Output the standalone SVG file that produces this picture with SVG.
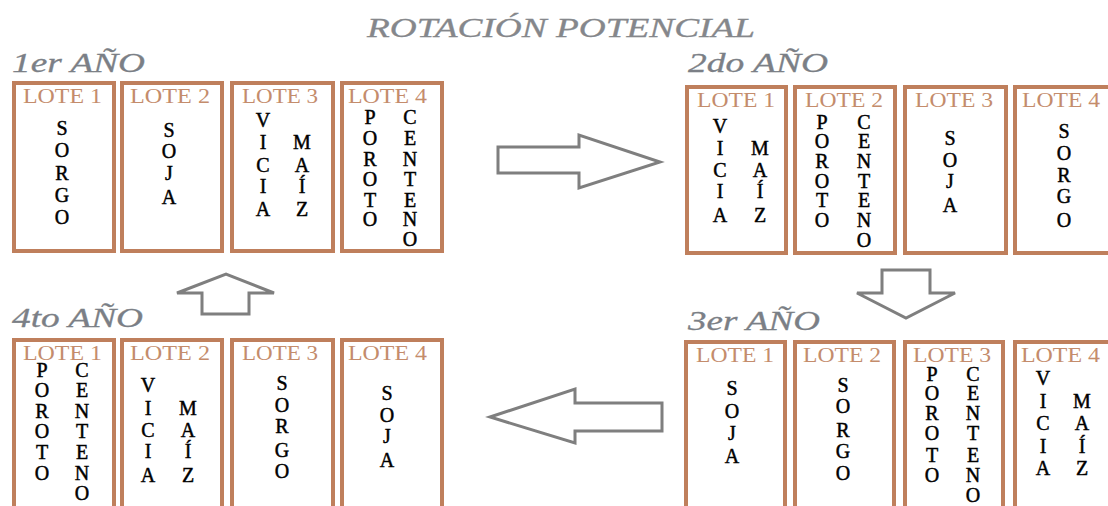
<svg xmlns="http://www.w3.org/2000/svg" width="1108" height="506" viewBox="0 0 1108 506">
<style>
.bg{fill:#ffffff}
.box{fill:#ffffff;stroke:#bf7f5c;stroke-width:4}
.lote{font-family:"Liberation Serif",serif;font-size:20px;fill:#c48c6c}
.crop{font-family:"Liberation Serif",serif;font-size:20px;fill:#000000;stroke:#000000;stroke-width:0.45;text-anchor:middle}
.year{font-family:"Liberation Serif",serif;font-style:italic;font-size:27px;fill:#7b7f86;stroke:#7b7f86;stroke-width:0.3}
.title{font-family:"Liberation Serif",serif;font-style:italic;font-size:27px;fill:#85878b;stroke:#85878b;stroke-width:0.3}
.arrow{fill:#ffffff;stroke:#7f7f7f;stroke-width:3;stroke-linejoin:miter}
</style>
<rect class="bg" x="0" y="0" width="1108" height="506"/>
<text class="title" x="367" y="37" textLength="388" lengthAdjust="spacingAndGlyphs">ROTACIÓN POTENCIAL</text>

<g id="year1">
<text class="year" x="12" y="72" textLength="133" lengthAdjust="spacingAndGlyphs">1er AÑO</text>
<g id="y1-lote1"><rect class="box" x="14" y="83" width="100" height="168"/>
<text class="lote" x="23" y="103" textLength="79" lengthAdjust="spacingAndGlyphs">LOTE 1</text>
<text class="crop"><tspan x="62" y="135">S</tspan><tspan x="62" y="157">O</tspan><tspan x="62" y="180">R</tspan><tspan x="62" y="202">G</tspan><tspan x="62" y="224">O</tspan></text></g>
<g id="y1-lote2"><rect class="box" x="122" y="83" width="100" height="168"/>
<text class="lote" x="130" y="103" textLength="80" lengthAdjust="spacingAndGlyphs">LOTE 2</text>
<text class="crop"><tspan x="169" y="137">S</tspan><tspan x="169" y="158">O</tspan><tspan x="169" y="180">J</tspan><tspan x="169" y="204">A</tspan></text></g>
<g id="y1-lote3"><rect class="box" x="232" y="83" width="101" height="168"/>
<text class="lote" x="242" y="103" textLength="76" lengthAdjust="spacingAndGlyphs">LOTE 3</text>
<text class="crop"><tspan x="263" y="127">V</tspan><tspan x="263" y="149">I</tspan><tspan x="263" y="172">C</tspan><tspan x="263" y="193">I</tspan><tspan x="263" y="216">A</tspan></text>
<text class="crop"><tspan x="302" y="149">M</tspan><tspan x="302" y="172">A</tspan><tspan x="302" y="193">Í</tspan><tspan x="302" y="216">Z</tspan></text></g>
<g id="y1-lote4"><rect class="box" x="342" y="83" width="100" height="168"/>
<text class="lote" x="348" y="103" textLength="79" lengthAdjust="spacingAndGlyphs">LOTE 4</text>
<text class="crop"><tspan x="370" y="124">P</tspan><tspan x="370" y="145">O</tspan><tspan x="370" y="166">R</tspan><tspan x="370" y="186">O</tspan><tspan x="370" y="207">T</tspan><tspan x="370" y="226">O</tspan></text>
<text class="crop"><tspan x="410" y="124">C</tspan><tspan x="410" y="145">E</tspan><tspan x="410" y="166">N</tspan><tspan x="410" y="186">T</tspan><tspan x="410" y="207">E</tspan><tspan x="410" y="226">N</tspan><tspan x="410" y="246">O</tspan></text></g>
</g>

<g id="year2">
<text class="year" x="688" y="72" textLength="140" lengthAdjust="spacingAndGlyphs">2do AÑO</text>
<g id="y2-lote1"><rect class="box" x="687" y="87" width="99" height="166"/>
<text class="lote" x="697" y="107" textLength="78" lengthAdjust="spacingAndGlyphs">LOTE 1</text>
<text class="crop"><tspan x="720" y="133">V</tspan><tspan x="720" y="155">I</tspan><tspan x="720" y="177">C</tspan><tspan x="720" y="198">I</tspan><tspan x="720" y="222">A</tspan></text>
<text class="crop"><tspan x="760" y="155">M</tspan><tspan x="760" y="177">A</tspan><tspan x="760" y="198">Í</tspan><tspan x="760" y="222">Z</tspan></text></g>
<g id="y2-lote2"><rect class="box" x="795" y="87" width="100" height="166"/>
<text class="lote" x="805" y="107" textLength="78" lengthAdjust="spacingAndGlyphs">LOTE 2</text>
<text class="crop"><tspan x="822" y="129">P</tspan><tspan x="822" y="148">O</tspan><tspan x="822" y="168">R</tspan><tspan x="822" y="188">O</tspan><tspan x="822" y="207">T</tspan><tspan x="822" y="227">O</tspan></text>
<text class="crop"><tspan x="864" y="129">C</tspan><tspan x="864" y="148">E</tspan><tspan x="864" y="168">N</tspan><tspan x="864" y="188">T</tspan><tspan x="864" y="207">E</tspan><tspan x="864" y="227">N</tspan><tspan x="864" y="247">O</tspan></text></g>
<g id="y2-lote3"><rect class="box" x="905" y="87" width="101" height="166"/>
<text class="lote" x="915" y="107" textLength="78" lengthAdjust="spacingAndGlyphs">LOTE 3</text>
<text class="crop"><tspan x="950" y="145">S</tspan><tspan x="950" y="167">O</tspan><tspan x="950" y="188">J</tspan><tspan x="950" y="212">A</tspan></text></g>
<g id="y2-lote4"><rect class="box" x="1015" y="87" width="100" height="166"/>
<text class="lote" x="1022" y="107" textLength="78" lengthAdjust="spacingAndGlyphs">LOTE 4</text>
<text class="crop"><tspan x="1064" y="138">S</tspan><tspan x="1064" y="160">O</tspan><tspan x="1064" y="182">R</tspan><tspan x="1064" y="203">G</tspan><tspan x="1064" y="227">O</tspan></text></g>
</g>

<g id="year3">
<text class="year" x="688" y="330" textLength="132" lengthAdjust="spacingAndGlyphs">3er AÑO</text>
<g id="y3-lote1"><rect class="box" x="686" y="342" width="99" height="200"/>
<text class="lote" x="696" y="362" textLength="78" lengthAdjust="spacingAndGlyphs">LOTE 1</text>
<text class="crop"><tspan x="732" y="395">S</tspan><tspan x="732" y="418">O</tspan><tspan x="732" y="440">J</tspan><tspan x="732" y="463">A</tspan></text></g>
<g id="y3-lote2"><rect class="box" x="795" y="342" width="99" height="200"/>
<text class="lote" x="803" y="362" textLength="78" lengthAdjust="spacingAndGlyphs">LOTE 2</text>
<text class="crop"><tspan x="843" y="392">S</tspan><tspan x="843" y="413">O</tspan><tspan x="843" y="437">R</tspan><tspan x="843" y="458">G</tspan><tspan x="843" y="480">O</tspan></text></g>
<g id="y3-lote3"><rect class="box" x="905" y="342" width="98" height="200"/>
<text class="lote" x="913" y="362" textLength="78" lengthAdjust="spacingAndGlyphs">LOTE 3</text>
<text class="crop"><tspan x="932" y="381">P</tspan><tspan x="932" y="400">O</tspan><tspan x="932" y="420">R</tspan><tspan x="932" y="440">O</tspan><tspan x="932" y="462">T</tspan><tspan x="932" y="482">O</tspan></text>
<text class="crop"><tspan x="973" y="381">C</tspan><tspan x="973" y="400">E</tspan><tspan x="973" y="420">N</tspan><tspan x="973" y="440">T</tspan><tspan x="973" y="462">E</tspan><tspan x="973" y="482">N</tspan><tspan x="973" y="502">O</tspan></text></g>
<g id="y3-lote4"><rect class="box" x="1015" y="342" width="100" height="200"/>
<text class="lote" x="1021" y="362" textLength="79" lengthAdjust="spacingAndGlyphs">LOTE 4</text>
<text class="crop"><tspan x="1043" y="385">V</tspan><tspan x="1043" y="408">I</tspan><tspan x="1043" y="430">C</tspan><tspan x="1043" y="453">I</tspan><tspan x="1043" y="475">A</tspan></text>
<text class="crop"><tspan x="1082" y="408">M</tspan><tspan x="1082" y="430">A</tspan><tspan x="1082" y="453">Í</tspan><tspan x="1082" y="475">Z</tspan></text></g>
</g>

<g id="year4">
<text class="year" x="12" y="327" textLength="131" lengthAdjust="spacingAndGlyphs">4to AÑO</text>
<g id="y4-lote1"><rect class="box" x="14" y="340" width="100" height="200"/>
<text class="lote" x="23" y="360" textLength="79" lengthAdjust="spacingAndGlyphs">LOTE 1</text>
<text class="crop"><tspan x="42" y="377">P</tspan><tspan x="42" y="397">O</tspan><tspan x="42" y="418">R</tspan><tspan x="42" y="438">O</tspan><tspan x="42" y="459">T</tspan><tspan x="42" y="480">O</tspan></text>
<text class="crop"><tspan x="82" y="377">C</tspan><tspan x="82" y="397">E</tspan><tspan x="82" y="418">N</tspan><tspan x="82" y="438">T</tspan><tspan x="82" y="459">E</tspan><tspan x="82" y="480">N</tspan><tspan x="82" y="500">O</tspan></text></g>
<g id="y4-lote2"><rect class="box" x="122" y="340" width="100" height="200"/>
<text class="lote" x="130" y="360" textLength="80" lengthAdjust="spacingAndGlyphs">LOTE 2</text>
<text class="crop"><tspan x="148" y="392">V</tspan><tspan x="148" y="415">I</tspan><tspan x="148" y="437">C</tspan><tspan x="148" y="458">I</tspan><tspan x="148" y="482">A</tspan></text>
<text class="crop"><tspan x="188" y="415">M</tspan><tspan x="188" y="437">A</tspan><tspan x="188" y="458">Í</tspan><tspan x="188" y="482">Z</tspan></text></g>
<g id="y4-lote3"><rect class="box" x="232" y="340" width="101" height="200"/>
<text class="lote" x="242" y="360" textLength="76" lengthAdjust="spacingAndGlyphs">LOTE 3</text>
<text class="crop"><tspan x="282" y="390">S</tspan><tspan x="282" y="412">O</tspan><tspan x="282" y="433">R</tspan><tspan x="282" y="457">G</tspan><tspan x="282" y="478">O</tspan></text></g>
<g id="y4-lote4"><rect class="box" x="342" y="340" width="100" height="200"/>
<text class="lote" x="348" y="360" textLength="79" lengthAdjust="spacingAndGlyphs">LOTE 4</text>
<text class="crop"><tspan x="387" y="400">S</tspan><tspan x="387" y="422">O</tspan><tspan x="387" y="443">J</tspan><tspan x="387" y="467">A</tspan></text></g>
</g>

<g id="connectors">
<path class="arrow" d="M498,147 L579,147 L579,135 L660,162 L579,188 L579,173 L498,173 Z"/>
<path class="arrow" d="M882,270 L930,270 L930,293 L955,293 L906,318 L857,293 L882,293 Z"/>
<path class="arrow" d="M662,403 L575,403 L575,389 L490,417 L575,443 L575,431 L662,431 Z"/>
<path class="arrow" d="M249,314 L202,314 L202,293 L177,293 L226,274 L274,293 L249,293 Z"/>
</g>
</svg>
